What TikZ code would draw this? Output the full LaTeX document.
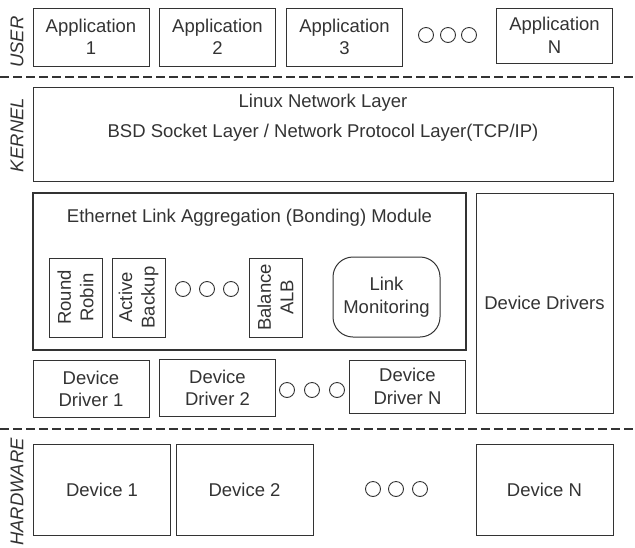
\documentclass[tikz,border=0pt]{standalone}
\usepackage{fontspec}
\setmainfont{Liberation Sans}
\usetikzlibrary{positioning}

\definecolor{ink}{HTML}{333333}

\tikzset{
  label font/.style={font=\fontsize{18.5}{22.5}\selectfont},
  box/.style={draw=ink, line width=1pt, inner sep=0pt, align=center, text=ink, label font},
  dot/.style={circle, draw=ink, line width=0.9pt, minimum size=15pt, inner sep=0pt},
  separator/.style={draw=ink, line width=2pt, dash pattern=on 9pt off 4pt}
}

\begin{document}
\begin{tikzpicture}[x=1pt, y=-1pt,
                    every node/.style={text=ink, label font}]
\useasboundingbox (0,0) rectangle (635,547);

% layer names on the left
\begin{scope}[every node/.style={rotate=90, text=ink,
                                 font=\fontsize{18.5}{22.5}\selectfont\itshape}]
    \node (user) at (17,42) {USER};
    \node (kern) at (17,135) {KERNEL};
    \node (hw) at (17,492) {HARDWARE};
\end{scope}

% dashed borders between the layers
\coordinate (sepA) at (0,77);
\coordinate (sepB) at (635,77);
\coordinate (sepC) at (0,429);
\coordinate (sepD) at (635,429);
\path[separator] (sepA) -- (sepB);
\path[separator] (sepC) -- (sepD);

% user space
\begin{scope}[every node/.style={box, minimum width=116pt, minimum height=58pt}]
    \node (app1) at (91,37) {Application\\1};
    \node (app2) at (217.5,37) {Application\\2};
    \node (app3) at (344.5,37) {Application\\3};
    \node[minimum height=55pt] (appN) at (554.5,35.5) {Application\\N};
\end{scope}
\foreach \x in {426,448,469}
    \node[dot] (appdot\x) at (\x,35) {};

% kernel: network stack
\node[box, minimum width=580pt, minimum height=94pt] (stack) at (323,134.5) {};
\node (linux) at (323,103) {Linux Network Layer};
\node (bsd) at (323,133) {BSD Socket Layer / Network Protocol Layer(TCP/IP)};

% bonding module
\node[box, line width=2pt, minimum width=433pt, minimum height=157pt] (bond) at (249.5,271.5) {};
\node (bondtitle) at (249.5,218) {Ethernet Link Aggregation (Bonding) Module};
\begin{scope}[every node/.style={box, rotate=90, minimum width=79pt, minimum height=53pt}]
    \node (rr) at (75.5,297.5) {Round\\Robin};
    \node (ab) at (138.5,297.5) {Active\\Backup};
    \node (alb) at (275.5,297.5) {Balance\\ALB};
\end{scope}
\foreach \x in {183,207,231}
    \node[dot] (modedot\x) at (\x,289) {};
\node[box, rounded corners=20pt, minimum width=107pt, minimum height=80pt] (mon) at (386.5,297) {Link\\Monitoring};

% drivers
\node[box, minimum width=137pt, minimum height=220pt] (drivers) at (544.5,303) {Device Drivers};
\begin{scope}[every node/.style={box, minimum width=116pt, minimum height=57pt}]
    \node (drv1) at (91,389) {Device\\Driver 1};
    \node (drv2) at (217.5,388) {Device\\Driver 2};
    \node[minimum height=53pt] (drvN) at (407.5,386.5) {Device\\Driver N};
\end{scope}
\foreach \x in {287,312,337}
    \node[dot] (drvdot\x) at (\x,390) {};

% hardware
\begin{scope}[every node/.style={box, minimum width=137pt, minimum height=91pt}]
    \node (dev1) at (102,489.5) {Device 1};
    \node (dev2) at (244.5,489.5) {Device 2};
    \node (devN) at (544.5,489.5) {Device N};
\end{scope}
\foreach \x in {373,396,420}
    \node[dot] (devdot\x) at (\x,489) {};
\end{tikzpicture}
\end{document}
